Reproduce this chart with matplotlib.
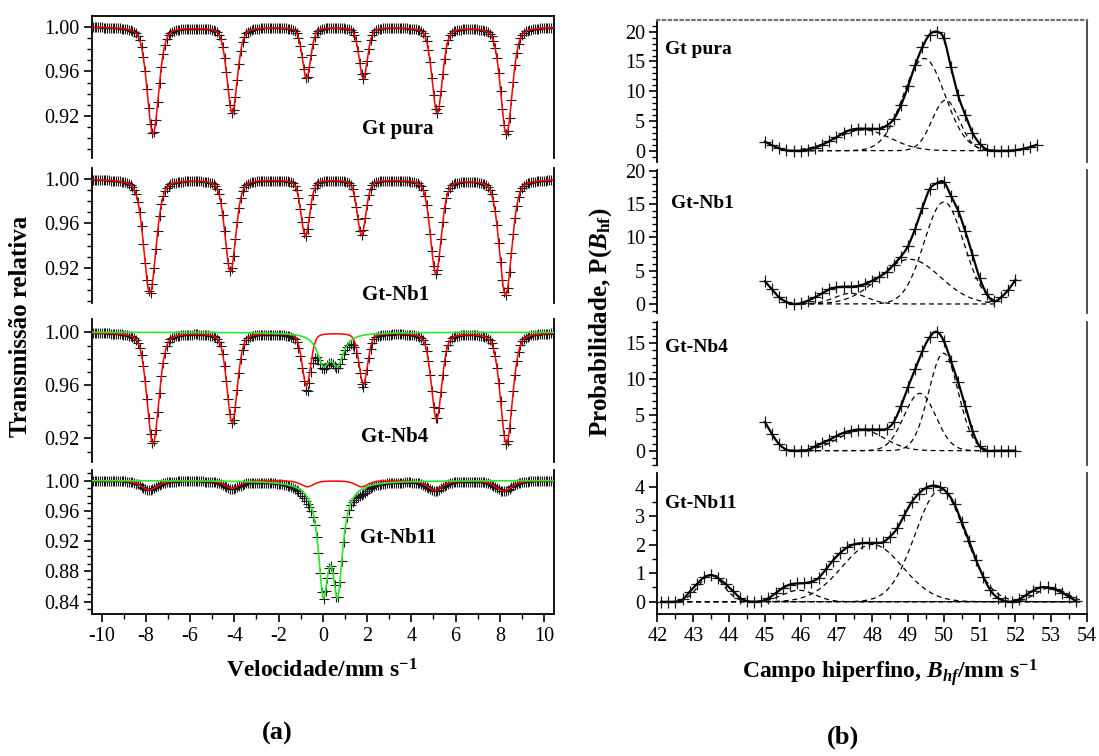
import numpy as np
import matplotlib.pyplot as plt
from matplotlib.ticker import MultipleLocator, FormatStrFormatter

plt.rcParams['font.family'] = ['Liberation Serif', 'DejaVu Serif']
plt.rcParams['axes.unicode_minus'] = False
plt.rcParams['mathtext.fontset'] = 'custom'
plt.rcParams['mathtext.rm'] = 'Liberation Serif:bold'
plt.rcParams['mathtext.it'] = 'Liberation Serif:italic:bold'
plt.rcParams['mathtext.bf'] = 'Liberation Serif:bold'

samples = ['Gt pura', 'Gt-Nb1', 'Gt-Nb4', 'Gt-Nb11']

# ---- (a) Mossbauer spectra: fitted sub-spectra
sextet_pos = [
    [-7.68, -4.10, -0.74, 1.83, 5.17, 8.30],
    [-7.82, -4.18, -0.79, 1.75, 5.11, 8.26],
    [-7.68, -4.10, -0.74, 1.83, 5.14, 8.30],
    [-7.85, -4.10, -0.70, 1.75, 5.07, 8.18],
]
sextet_depth = [
    [0.096, 0.077, 0.046, 0.046, 0.077, 0.096],
    [0.103, 0.083, 0.051, 0.050, 0.085, 0.105],
    [0.084, 0.068, 0.040, 0.039, 0.065, 0.084],
    [0.0125, 0.010, 0.008, 0.008, 0.013, 0.014],
]
sextet_fwhm = [
    [0.62, 0.55, 0.45, 0.45, 0.55, 0.62],
    [0.66, 0.58, 0.47, 0.47, 0.58, 0.66],
    [0.64, 0.56, 0.46, 0.46, 0.56, 0.64],
    [0.85, 0.80, 0.70, 0.70, 0.80, 0.85],
]
doublet_pos = [[], [], [0.02, 0.67], [0.02, 0.67]]
doublet_depth = [0.0, 0.0, 0.0217, 0.1346]
doublet_fwhm = [0.0, 0.0, 0.65, 0.55]

vel_ticks = [-10, -8, -6, -4, -2, 0, 2, 4, 6, 8, 10]

# ---- (b) hyperfine field distributions
bhf_start = [45.0, 45.0, 45.0, 42.1]
prob_pts = [
    [1.5, 0.9, 0.4, 0.05, 0.0, 0.0, 0.2, 0.5, 1.0, 1.6, 2.3, 3.0, 3.5, 3.7,
     3.7, 3.7, 3.7, 4.2, 5.3, 7.6, 10.8, 14.4, 17.4, 19.5, 20.0, 18.9, 14.0,
     9.3, 6.0, 3.0, 1.2, 0.2, 0.0, 0.0, 0.0, 0.1, 0.3, 0.6, 1.0],
    [3.4, 2.2, 1.0, 0.3, 0.0, 0.1, 0.5, 1.0, 1.6, 2.2, 2.5, 2.6, 2.6, 2.7,
     3.0, 3.5, 4.1, 4.8, 5.9, 7.1, 8.7, 11.3, 14.4, 17.2, 18.1, 18.3, 16.2,
     14.0, 10.9, 7.4, 3.9, 1.5, 0.4, 1.0, 2.1, 3.6],
    [4.0, 2.3, 0.9, 0.15, 0.0, 0.0, 0.1, 0.6, 1.05, 1.5, 2.05, 2.5, 2.8, 2.95,
     2.95, 2.95, 2.95, 3.05, 4.0, 6.2, 8.9, 11.4, 13.9, 15.8, 16.6, 15.3,
     12.5, 9.6, 6.2, 2.8, 0.6, 0.0, 0.0, 0.0, 0.0, 0.0],
    [0.0, 0.0, 0.0, 0.08, 0.35, 0.62, 0.85, 0.93, 0.82, 0.62, 0.38, 0.14,
     0.02, 0.0, 0.02, 0.12, 0.3, 0.48, 0.6, 0.64, 0.65, 0.7, 0.83, 1.13,
     1.44, 1.7, 1.9, 2.01, 2.05, 2.06, 2.06, 2.08, 2.28, 2.57, 3.04, 3.48,
     3.78, 3.98, 4.06, 4.0, 3.8, 3.4, 2.78, 2.14, 1.46, 0.88, 0.4, 0.14,
     0.03, 0.0, 0.08, 0.24, 0.39, 0.5, 0.5, 0.43, 0.32, 0.17, 0.02],
]
# gaussian components (centre, height, sigma)
components = [
    [(47.75, 3.5, 0.75), (49.45, 15.5, 0.58), (50.05, 8.5, 0.38)],
    [(47.4, 1.6, 0.45), (49.05, 6.7, 0.85), (50.0, 15.3, 0.55)],
    [(47.7, 2.9, 0.63), (49.33, 8.0, 0.44), (49.99, 13.6, 0.41)],
    [(43.5, 0.93, 0.35), (45.95, 0.4, 0.45), (48.0, 2.0, 0.85),
     (49.9, 3.9, 0.7), (53.0, 0.5, 0.4)],
]
comp_range = [(46.0, 51.6), (46.0, 51.4), (45.7, 51.3), (42.1, 53.8)]


def line_shape(v, c, d, w, eta):
    x = (v - c) / (w / 2.0)
    return d * (eta / (1 + x ** 2) + (1 - eta) * np.exp(-np.log(2) * x ** 2))


def sextet(v, i):
    eta = 0.35 if i < 3 else 0.5
    s = np.zeros_like(v)
    for c, d, w in zip(sextet_pos[i], sextet_depth[i], sextet_fwhm[i]):
        s += line_shape(v, c, d, w, eta)
    return s


def doublet(v, i):
    s = np.zeros_like(v)
    for c in doublet_pos[i]:
        s += line_shape(v, c, doublet_depth[i], doublet_fwhm[i], 1.0)
    return s


def spline_line(x, y, n=12):
    # catmull-rom curve through the points, only for drawing the solid line
    x = np.asarray(x, float)
    y = np.asarray(y, float)
    xp = np.concatenate([[2 * x[0] - x[1]], x, [2 * x[-1] - x[-2]]])
    yp = np.concatenate([[2 * y[0] - y[1]], y, [2 * y[-1] - y[-2]]])
    t = np.linspace(0, 1, n, endpoint=False)

    def cr(a0, a1, a2, a3):
        return 0.5 * (2 * a1 + (a2 - a0) * t + (2 * a0 - 5 * a1 + 4 * a2 - a3) * t ** 2
                      + (3 * a1 - a0 - 3 * a2 + a3) * t ** 3)

    xs, ys = [], []
    for k in range(1, len(x)):
        xs.append(cr(*xp[k - 1:k + 3]))
        ys.append(cr(*yp[k - 1:k + 3]))
    xs.append([x[-1]])
    ys.append([y[-1]])
    return np.concatenate(xs), np.concatenate(ys)


W, H = 1099, 756
fig = plt.figure(figsize=(W / 100, H / 100), dpi=100)


def px_axes(x0, x1, y0, y1):
    return fig.add_axes([x0 / W, 1 - y1 / H, (x1 - x0) / W, (y1 - y0) / H])


left_boxes = [(16, 158.3), (168.3, 302.7), (319.3, 461.7), (470, 614.3)]
right_boxes = [(20, 161.7), (170, 313.3), (321.7, 465), (473.3, 614.3)]
left_ylim = [(0.8821, 1.0096), (0.8884, 1.0097), (0.9023, 1.0098), (0.8234, 1.0139)]
right_ylim = [(-1.85, 21.97), (-1.40, 20.1), (-2.0, 18.0), (-0.44, 4.49)]
left_lab = [(398, 129), (396, 295), (395, 437), (398, 538)]
right_lab = [(665, 50), (671, 203), (665, 347), (665, 503)]

v_ch = np.linspace(-10.4, 10.4, 256)
v_fit = np.linspace(-10.45, 10.45, 2500)
TICK_FS = 14.5

for i, name in enumerate(samples):
    # ---------- left: spectrum
    ax = px_axes(91.7, 554, *left_boxes[i])
    data = 1 - sextet(v_ch, i) - doublet(v_ch, i)
    ax.plot(v_ch, data, '+', color='0.1', ms=6.5, mew=0.8, zorder=2)
    ax.plot(v_fit, 1 - sextet(v_fit, i), color='#ff0000', lw=1.1, zorder=3)
    if doublet_pos[i]:
        ax.plot(v_fit, 1 - doublet(v_fit, i), color='#2ee62e', lw=1.2, zorder=4)
    ax.set_xlim(-10.45, 10.45)
    ax.set_ylim(*left_ylim[i])
    ax.yaxis.set_major_locator(MultipleLocator(0.04))
    ax.yaxis.set_minor_locator(MultipleLocator(0.01))
    ax.yaxis.set_major_formatter(FormatStrFormatter('%.2f'))
    ax.xaxis.set_major_locator(MultipleLocator(2))
    ax.xaxis.set_minor_locator(MultipleLocator(1))
    ax.tick_params(which='both', direction='out', labelsize=TICK_FS, pad=3,
                   top=False, right=False)
    ax.tick_params(which='major', length=6, width=1.2)
    ax.tick_params(which='minor', length=3.5, width=1.0)
    for sp in ax.spines.values():
        sp.set_linewidth(1.3)
    ax.spines['top'].set_visible(i == 0)
    ax.spines['bottom'].set_visible(i == 3)
    if i < 3:
        ax.tick_params(axis='x', which='both', bottom=False, labelbottom=False)
    else:
        ax.set_xticks(vel_ticks)
    fig.text(left_lab[i][0] / W, 1 - left_lab[i][1] / H, name, ha='center',
             va='center', fontsize=15, fontweight='bold')

    # ---------- right: P(Bhf)
    bx = px_axes(657.5, 1087, *right_boxes[i])
    b = bhf_start[i] + 0.2 * np.arange(len(prob_pts[i]))
    bc = np.linspace(*comp_range[i], 600)
    for c, a, s in components[i]:
        bx.plot(bc, a * np.exp(-(bc - c) ** 2 / (2 * s ** 2)), color='k',
                lw=0.9, ls=(0, (4, 3)), zorder=2)
    bx.plot(b, prob_pts[i], '+', color='0.1', ms=8, mew=0.9, zorder=3)
    sx, sy = spline_line(b, prob_pts[i])
    bx.plot(sx, sy, color='k', lw=1.6, zorder=4)
    bx.set_xlim(42, 54)
    bx.set_ylim(*right_ylim[i])
    if i < 3:
        bx.yaxis.set_major_locator(MultipleLocator(5))
        bx.yaxis.set_minor_locator(MultipleLocator(1))
    else:
        bx.yaxis.set_major_locator(MultipleLocator(1))
        bx.yaxis.set_minor_locator(MultipleLocator(0.5))
    bx.xaxis.set_major_locator(MultipleLocator(1))
    bx.xaxis.set_minor_locator(MultipleLocator(0.5))
    bx.tick_params(which='both', direction='out', labelsize=TICK_FS, pad=3,
                   top=False, right=False)
    bx.tick_params(which='major', length=6, width=1.2)
    bx.tick_params(which='minor', length=3.5, width=1.0)
    for sp in bx.spines.values():
        sp.set_linewidth(1.3)
    bx.spines['right'].set_color('0.25')
    bx.spines['top'].set_visible(i == 0)
    if i == 0:
        bx.spines['top'].set_linestyle(':')
        bx.spines['top'].set_color('0.45')
        bx.spines['top'].set_linewidth(1.6)
    bx.spines['bottom'].set_visible(i == 3)
    if i < 3:
        bx.tick_params(axis='x', which='both', bottom=False, labelbottom=False)
    fig.text(right_lab[i][0] / W, 1 - right_lab[i][1] / H, name, ha='left',
             va='center', fontsize=14, fontweight='bold')

fig.text(21 / W, 1 - 326 / H, 'Transmissão relativa', rotation=90,
         ha='center', va='center', fontsize=18, fontweight='bold')
fig.text(601 / W, 1 - 322 / H, r'Probabilidade, P($\mathit{B}_{\mathrm{hf}}$)',
         rotation=90, ha='center', va='center', fontsize=18, fontweight='bold')
fig.text(322 / W, 1 - 678 / H, r'Velocidade/mm s$^{\mathrm{-1}}$',
         ha='center', va='baseline', fontsize=17, fontweight='bold')
fig.text(890 / W, 1 - 678 / H,
         r'Campo hiperfino, $\mathit{B}_{\mathit{hf}}$/mm s$^{\mathrm{-1}}$',
         ha='center', va='baseline', fontsize=17, fontweight='bold')
fig.text(277 / W, 1 - 733 / H, '(a)', ha='center', va='center',
         fontsize=19, fontweight='bold')
fig.text(843 / W, 1 - 737 / H, '(b)', ha='center', va='center',
         fontsize=19, fontweight='bold')

fig.savefig('out.png', dpi=100)
